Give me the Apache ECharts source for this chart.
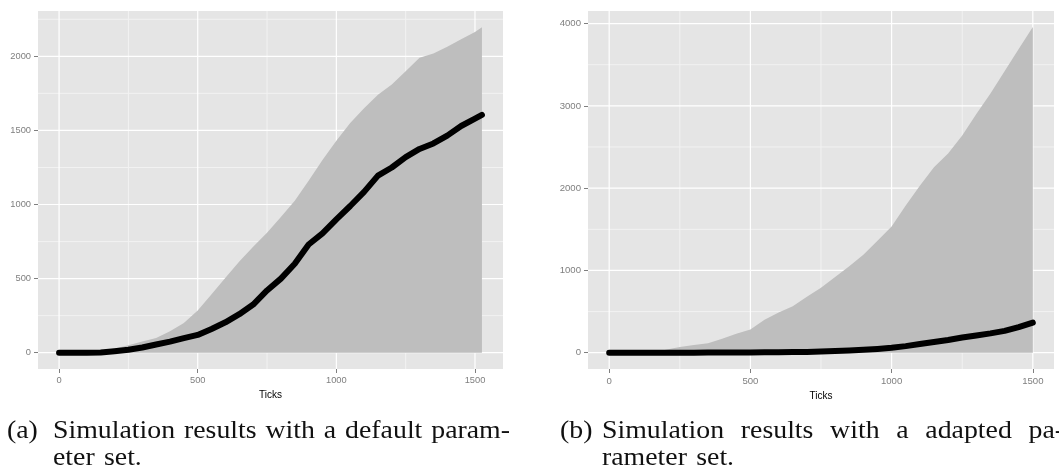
<!DOCTYPE html>
<html>
<head>
<meta charset="utf-8">
<script src="https://cdn.jsdelivr.net/npm/echarts@6/dist/echarts.min.js"></script>
<style>
  html, body { margin: 0; padding: 0; background: #ffffff; }
  #chart { width: 1059px; height: 475px; }
</style>
</head>
<body>
<div id="chart"></div>
<script>
// Panel (a): default parameter set
const ticksA = [0, 50, 100, 150, 200, 250, 300, 350, 400, 450, 500, 550, 600, 650, 700, 750,
  800, 850, 900, 950, 1000, 1050, 1100, 1150, 1200, 1250, 1300, 1350, 1400, 1450, 1500, 1525];
const upperA = [0, 0, 3, 10, 28, 50, 75, 100, 145, 200, 285, 395, 505, 615, 715, 810,
  915, 1025, 1160, 1300, 1430, 1550, 1650, 1740, 1810, 1900, 1990, 2020, 2065, 2115, 2165, 2196];
const meanA = [0, 0, 0, 2, 10, 20, 35, 55, 75, 98, 120, 160, 205, 260, 325, 420,
  500, 600, 730, 805, 900, 990, 1085, 1195, 1250, 1320, 1375, 1412, 1465, 1530, 1580, 1605];

// Panel (b): adapted parameter set
const ticksB = [0, 50, 100, 150, 200, 250, 300, 350, 400, 450, 500, 550, 600, 650, 700, 750,
  800, 850, 900, 950, 1000, 1050, 1100, 1150, 1200, 1250, 1300, 1350, 1400, 1450, 1500];
const upperB = [0, 0, 0, 5, 35, 70, 95, 115, 170, 230, 282, 400, 490, 565, 680, 790,
  920, 1050, 1190, 1360, 1535, 1790, 2030, 2255, 2420, 2640, 2900, 3150, 3420, 3690, 3960];
const meanB = [0, 0, 0, 0, 0, 1, 1, 2, 2, 3, 4, 5, 6, 8, 10, 14,
  20, 27, 35, 46, 60, 80, 105, 130, 155, 185, 210, 235, 265, 310, 365];

// Axis ticks and grid lines
const xMajor = [0, 500, 1000, 1500];
const xMinor = [250, 750, 1250];
const yMajorA = [0, 500, 1000, 1500, 2000];
const yMinorA = [250, 750, 1250, 1750, 2250];
const yMajorB = [0, 1000, 2000, 3000, 4000];
const yMinorB = [500, 1500, 2500, 3500];

const xTitle = 'Ticks';

// Sub-figure captions, one array of words per line
const capA = { tag: '(a)', lines: [
  ['Simulation', 'results', 'with', 'a', 'default', 'param-'],
  ['eter', 'set.']
]};
const capB = { tag: '(b)', lines: [
  ['Simulation', 'results', 'with', 'a', 'adapted', 'pa-'],
  ['rameter', 'set.']
]};

const pairs = (xs, ys) => xs.map((x, i) => [x, ys[i]]);

const BG = '#E5E5E5';
const BAND = '#BEBEBE';
const TICK_GREY = '#7F7F7F';

function axisPair(gridIndex, xr, yr, yMajor, labelSize) {
  const label = {
    color: TICK_GREY, fontSize: labelSize, fontFamily: 'Liberation Sans', margin: 7,
    formatter: v => String(v)
  };
  const tick = { show: true, inside: false, length: 4, lineStyle: { color: TICK_GREY, width: 1 } };
  const x = {
    type: 'value', gridIndex, min: xr[0], max: xr[1], position: 'bottom',
    name: xTitle, nameLocation: 'middle', nameGap: 12,
    nameTextStyle: { color: '#000', fontSize: 10, fontFamily: 'Liberation Sans' },
    axisLine: { show: false, onZero: false },
    axisTick: Object.assign({ customValues: xMajor }, tick),
    axisLabel: Object.assign({ customValues: xMajor }, label),
    splitLine: { show: false }
  };
  const y = {
    type: 'value', gridIndex, min: yr[0], max: yr[1], position: 'left',
    axisLine: { show: false, onZero: false },
    axisTick: Object.assign({ customValues: yMajor }, tick),
    axisLabel: Object.assign({ customValues: yMajor }, label),
    splitLine: { show: false }
  };
  return [x, y];
}

// Panel grid lines, drawn as plain line series underneath the data
function gridLineSeries(idx, xr, yr, yMajor, yMinor) {
  const out = [];
  const add = (pts, color, width) => out.push({
    type: 'line', xAxisIndex: idx, yAxisIndex: idx, data: pts, z: 1,
    showSymbol: false, silent: true, animation: false,
    lineStyle: { color, width }
  });
  xMinor.forEach(v => add([[v, yr[0]], [v, yr[1]]], '#F2F2F2', 1));
  yMinor.forEach(v => add([[xr[0], v], [xr[1], v]], '#F2F2F2', 1));
  xMajor.forEach(v => add([[v, yr[0]], [v, yr[1]]], '#FFFFFF', 1.2));
  yMajor.forEach(v => add([[xr[0], v], [xr[1], v]], '#FFFFFF', 1.2));
  return out;
}

function bandSeries(idx, xs, ys) {
  return {
    type: 'line', xAxisIndex: idx, yAxisIndex: idx, data: pairs(xs, ys), z: 3,
    showSymbol: false, silent: true, animation: false,
    lineStyle: { width: 0, color: BAND },
    areaStyle: { color: BAND, opacity: 1, origin: 0 }
  };
}

function meanSeries(idx, xs, ys) {
  return {
    type: 'line', xAxisIndex: idx, yAxisIndex: idx, data: pairs(xs, ys), z: 4,
    showSymbol: false, silent: true, animation: false,
    lineStyle: { width: 6, color: '#000000', cap: 'round', join: 'round' }
  };
}

const xrA = [-76, 1601], yrA = [-110, 2306];
const xrB = [-75, 1575], yrB = [-198, 4153];
const axA = axisPair(0, xrA, yrA, yMajorA, 9.3);
const axB = axisPair(1, xrB, yrB, yMajorB, 9.6);

// Caption text: serif words, justified between a left edge and a right edge
const CAP_FONT_SIZE = 26;
const CAP_FONT = CAP_FONT_SIZE + 'px "Liberation Serif"';
const CAP_SX = 1.07;
const measureCtx = document.createElement('canvas').getContext('2d');
measureCtx.font = CAP_FONT;
const wordWidth = w => measureCtx.measureText(w).width * CAP_SX;

function captionElements(cap, tagX, textX, lineEnds, baselines) {
  const els = [];
  const mk = (text, x, y) => ({
    type: 'text', x, y, scaleX: CAP_SX, silent: true,
    style: { text, font: CAP_FONT, fill: '#111111', verticalAlign: 'middle' }
  });
  els.push(mk(cap.tag, tagX, baselines[0]));
  cap.lines.forEach((words, li) => {
    const widths = words.map(wordWidth);
    let gap = CAP_FONT_SIZE * 0.333 * CAP_SX;
    if (lineEnds[li] != null && words.length > 1) {
      const total = widths.reduce((a, b) => a + b, 0);
      gap = (lineEnds[li] - textX - total) / (words.length - 1);
    }
    let x = textX;
    words.forEach((w, i) => {
      els.push(mk(w, x, baselines[li]));
      x += widths[i] + gap;
    });
  });
  return els;
}

const graphics = [].concat(
  captionElements(capA, 7, 53, [510, null], [431, 458]),
  captionElements(capB, 560, 602, [1064, null], [431, 458])
);

const option = {
  backgroundColor: '#ffffff',
  animation: false,
  grid: [
    { left: 38, top: 11, width: 465, height: 358, show: true, backgroundColor: BG, borderWidth: 0 },
    { left: 588, top: 11, width: 466, height: 358, show: true, backgroundColor: BG, borderWidth: 0 }
  ],
  xAxis: [axA[0], axB[0]],
  yAxis: [axA[1], axB[1]],
  series: [].concat(
    gridLineSeries(0, xrA, yrA, yMajorA, yMinorA),
    [bandSeries(0, ticksA, upperA), meanSeries(0, ticksA, meanA)],
    gridLineSeries(1, xrB, yrB, yMajorB, yMinorB),
    [bandSeries(1, ticksB, upperB), meanSeries(1, ticksB, meanB)]
  ),
  graphic: { elements: graphics }
};

const chart = echarts.init(document.getElementById('chart'), null, { renderer: 'canvas' });
chart.setOption(option);
</script>
</body>
</html>
